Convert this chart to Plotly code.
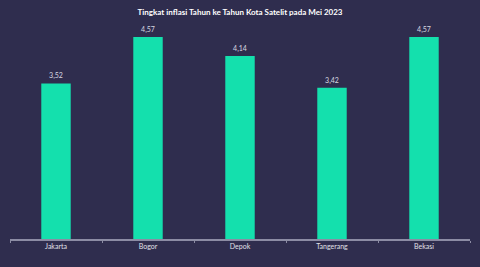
import plotly.graph_objects as go

cities = ["Jakarta", "Bogor", "Depok", "Tangerang", "Bekasi"]
inflasi = [3.52, 4.57, 4.14, 3.42, 4.57]
labels = [f"{v:.2f}".replace(".", ",") for v in inflasi]

fig = go.Figure(go.Bar(
    x=cities, y=inflasi, text=labels, textposition="outside",
    textfont=dict(size=7, color="#d8d8e0", family="Lato"),
    marker=dict(color="#14e0ad", line=dict(width=0)),
    width=0.32, cliponaxis=False,
))
fig.update_layout(
    width=480, height=267,
    paper_bgcolor="#2f2d4e", plot_bgcolor="#2f2d4e",
    margin=dict(l=10, r=10, t=18, b=28),
    title=dict(text="<b>Tingkat inflasi Tahun ke Tahun Kota Satelit pada Mei 2023</b>",
               x=0.5, xanchor="center", y=0.955, yanchor="middle",
               font=dict(size=8, color="#ffffff", family="Lato")),
    showlegend=False,
    font=dict(family="Lato"),
)
fig.update_xaxes(showline=True, linecolor="#8c8ca4", linewidth=2,
                 tickson="boundaries", ticks="outside", ticklen=2, tickcolor="#8c8ca4",
                 tickfont=dict(size=7, color="#e0e0e8"), showgrid=False)
fig.update_yaxes(range=[0, 5], visible=False, showgrid=False)
fig.write_html("out.html")
